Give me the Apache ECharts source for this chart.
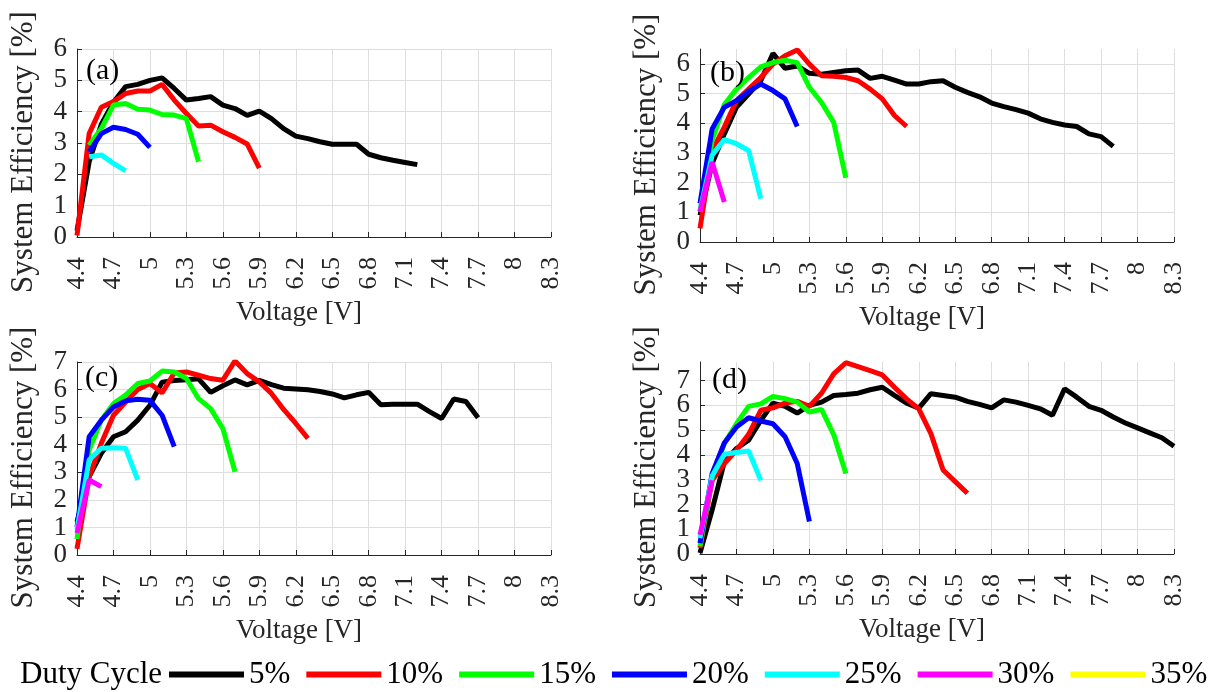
<!DOCTYPE html>
<html><head><meta charset="utf-8">
<script src="https://cdn.jsdelivr.net/npm/echarts@6/dist/echarts.min.js"></script>
<style>html,body{margin:0;padding:0;background:#fff}#c{width:1215px;height:692px}</style>
</head><body><div id="c"></div>
<script>
// Shared voltage steps (V)
const voltage = [4.4,4.5,4.6,4.7,4.8,4.9,5.0,5.1,5.2,5.3,5.4,5.5,5.6,5.7,5.8,5.9,6.0,6.1,6.2,6.3,
                 6.4,6.5,6.6,6.7,6.8,6.9,7.0,7.1,7.2,7.3,7.4,7.5,7.6,7.7,7.8,7.9,8.0,8.1,8.2,8.3];
const xTicks = [4.4,4.7,5,5.3,5.6,5.9,6.2,6.5,6.8,7.1,7.4,7.7,8,8.3];
const dutyCycles = ['5%','10%','15%','20%','25%','30%','35%'];
const colors = ['#000000','#ff0000','#00ff00','#0000ff','#00ffff','#ff00ff','#ffff00'];

// Panel (a)
const a5  = [0.2,2.4,3.6,4.3,4.8,4.87,5.0,5.08,4.74,4.37,4.42,4.48,4.21,4.1,3.88,4.02,3.78,3.46,3.22,3.14,3.04,2.96,2.96,2.96,2.64,2.53,2.45,2.38,2.31];
const a10 = [0.05,3.3,4.14,4.32,4.58,4.66,4.66,4.87,4.37,3.94,3.54,3.57,3.36,3.18,2.97,2.2];
const a15 = [null,2.93,3.46,4.21,4.26,4.08,4.05,3.91,3.89,3.78,2.4];
const a20 = [null,2.72,3.3,3.5,3.43,3.28,2.86];
const a25 = [null,2.56,2.62,2.35,2.11];
// Panel (b)
const b5  = [0.9,2.64,3.64,4.54,4.98,5.43,6.35,5.85,5.93,5.68,5.65,5.71,5.77,5.79,5.51,5.58,5.45,5.32,5.32,5.4,5.43,5.21,5.04,4.89,4.68,4.56,4.46,4.34,4.15,4.03,3.94,3.89,3.64,3.55,3.22];
const b10 = [0.46,3.08,3.87,4.76,5.15,5.54,5.99,6.27,6.47,5.99,5.6,5.58,5.54,5.43,5.15,4.82,4.26,3.89];
const b15 = [1.02,3.42,4.63,5.15,5.54,5.9,6.04,6.12,6.04,5.21,4.7,4.03,2.16];
const b20 = [1.3,3.81,4.54,4.76,5.07,5.32,5.1,4.82,3.89];
const b25 = [1.07,2.92,3.45,3.31,3.08,1.46];
const b30 = [1.02,2.69,1.35];
// Panel (c)
const c5  = [1.2,2.84,3.69,4.29,4.47,4.89,5.43,6.27,6.33,6.36,6.39,5.9,6.14,6.35,6.17,6.33,6.18,6.05,6.02,5.99,5.93,5.84,5.7,5.81,5.9,5.45,5.47,5.47,5.47,5.2,4.95,5.66,5.57,4.98];
const c10 = [0.22,2.84,4.05,5.07,5.55,6.0,6.22,5.88,6.6,6.64,6.52,6.4,6.34,7.04,6.58,6.28,5.86,5.28,4.77,4.23];
const c15 = [0.58,3.81,4.89,5.49,5.8,6.22,6.31,6.67,6.64,6.4,5.67,5.31,4.59,3.02];
const c20 = [1.0,4.29,4.89,5.37,5.59,5.65,5.61,5.07,3.93];
const c25 = [0.92,3.45,3.87,3.89,3.87,2.72];
const c30 = [0.8,2.72,2.48];
// Panel (d)
const d5  = [0.04,1.78,3.72,4.26,4.59,5.39,6.09,5.96,5.69,6.0,6.13,6.4,6.44,6.49,6.63,6.73,6.4,6.09,5.89,6.47,6.4,6.33,6.16,6.04,5.9,6.22,6.13,6.0,5.86,5.6,6.67,6.33,5.96,5.8,5.53,5.29,5.09,4.89,4.69,4.35];
const d10 = [0.24,2.98,3.65,4.19,4.83,5.8,5.9,6.09,6.16,5.96,6.49,7.27,7.72,7.56,7.4,7.23,6.73,6.26,5.86,4.86,3.39,2.92,2.45];
const d15 = [0.31,3.12,4.46,5.26,5.96,6.06,6.36,6.27,6.13,5.73,5.84,4.82,3.25];
const d20 = [0.44,3.25,4.48,5.13,5.5,5.37,5.26,4.73,3.65,1.31];
const d25 = [0.64,3.15,4.03,4.1,4.16,2.98];
const d30 = [0.78,2.98];

const yTicksA = [0,1,2,3,4,5,6];
const yTicksB = [0,1,2,3,4,5,6];
const yTicksC = [0,1,2,3,4,5,6,7];
const yTicksD = [0,1,2,3,4,5,6,7];

const panels = [
  {label:'(a)', grid:{left:77, top:49, width:474, height:188}, yMax:6,    yTicks:yTicksA, split:false, series:[a5,a10,a15,a20,a25]},
  {label:'(b)', grid:{left:700,top:49, width:474, height:193}, yMax:6.5,  yTicks:yTicksB, split:false, series:[b5,b10,b15,b20,b25,b30]},
  {label:'(c)', grid:{left:77, top:362,width:474, height:193}, yMax:7,    yTicks:yTicksC, split:false, series:[c5,c10,c15,c20,c25,c30]},
  {label:'(d)', grid:{left:700,top:362,width:474, height:192}, yMax:7.75, yTicks:yTicksD, split:true,  series:[d5,d10,d15,d20,d25,d30]}
];

const FONT = "'Liberation Serif','Times New Roman',serif";
const TXT = '#262626';
const grids = [], xAxes = [], yAxes = [], series = [], titles = [], extraY = [];
const labelPos = [[86,56],[710,58],[85,363],[712,365]];
const yLabelStyle = {margin:10, fontFamily:FONT, fontSize:27, color:TXT,
  interval:0, showMinLabel:true, showMaxLabel:true, hideOverlap:false};

panels.forEach((p, gi) => {
  grids.push(Object.assign({containLabel:false}, p.grid));
  xAxes.push({
    type:'value', gridIndex:gi, min:4.4, max:8.3,
    name:'Voltage [V]', nameLocation:'middle', nameGap:62,
    nameTextStyle:{fontFamily:FONT, fontSize:27, color:TXT, padding:[0,30,0,0]},
    axisLine:{show:true, onZero:false, lineStyle:{color:TXT, width:1}},
    axisTick:{show:true, inside:true, length:5, customValues:xTicks.slice(), lineStyle:{color:TXT}},
    axisLabel:{customValues:xTicks.slice(), rotate:90, margin:20, fontFamily:FONT, fontSize:26, color:TXT,
      interval:0, showMinLabel:true, showMaxLabel:true, hideOverlap:false,
      formatter:v => String(Math.round(v*10)/10)},
    splitLine:{show:true, lineStyle:{color:'#dedede', width:1}}
  });
  // When labels are tightly packed, spread them over two co-located axes
  const mainLabels = p.split ? p.yTicks.filter((v, i) => i % 2 === 0) : p.yTicks.slice();
  yAxes.push({
    type:'value', gridIndex:gi, min:0, max:p.yMax, position:'left',
    name:'System Efficiency [%]', nameLocation:'middle', nameGap:38,
    nameTextStyle:{fontFamily:FONT, fontSize:31, color:TXT, padding:[0,18,0,0]},
    axisLine:{show:true, onZero:false, lineStyle:{color:TXT, width:1}},
    axisTick:{show:true, inside:true, length:5, customValues:p.yTicks.slice(), lineStyle:{color:TXT}},
    axisLabel:Object.assign({customValues:mainLabels}, yLabelStyle),
    splitLine:{show:true, lineStyle:{color:'#dedede', width:1}}
  });
  if (p.split) {
    extraY.push({
      type:'value', gridIndex:gi, min:0, max:p.yMax, position:'left', offset:0,
      axisLine:{show:false}, axisTick:{show:false}, splitLine:{show:false},
      axisLabel:Object.assign({customValues:p.yTicks.filter((v, i) => i % 2 === 1)}, yLabelStyle)
    });
  }
  p.series.forEach((vals, si) => {
    const data = [];
    vals.forEach((v, i) => { if (v !== null) data.push([voltage[i], v]); });
    series.push({
      type:'line', name:dutyCycles[si], xAxisIndex:gi, yAxisIndex:gi, data:data,
      symbol:'none', showSymbol:false, color:colors[si],
      lineStyle:{width:5, color:colors[si]}, z:2+si, silent:true
    });
  });
  titles.push({text:p.label, left:labelPos[gi][0], top:labelPos[gi][1], padding:0,
    textStyle:{fontFamily:FONT, fontSize:30, fontWeight:'normal', color:'#000'}});
});
extraY.forEach(a => yAxes.push(a));
// legend-only entry (35%) has no measured points
series.push({type:'line', name:dutyCycles[6], xAxisIndex:0, yAxisIndex:0, data:[], symbol:'none',
  color:colors[6], lineStyle:{width:5, color:colors[6]}});

titles.push({text:'Duty Cycle', left:20, top:659, padding:0,
  textStyle:{fontFamily:FONT, fontSize:31, fontWeight:'normal', color:'#000'}});

const chart = echarts.init(document.getElementById('c'), null, {renderer:'canvas'});
chart.setOption({
  animation:false,
  backgroundColor:'#ffffff',
  title:titles,
  grid:grids, xAxis:xAxes, yAxis:yAxes, series:series,
  legend:{data:dutyCycles, left:169, top:659, itemWidth:75, itemHeight:6, itemGap:16, icon:'rect',
    padding:0, selectedMode:false,
    textStyle:{fontFamily:FONT, fontSize:31, color:'#000'}}
});
</script></body></html>
